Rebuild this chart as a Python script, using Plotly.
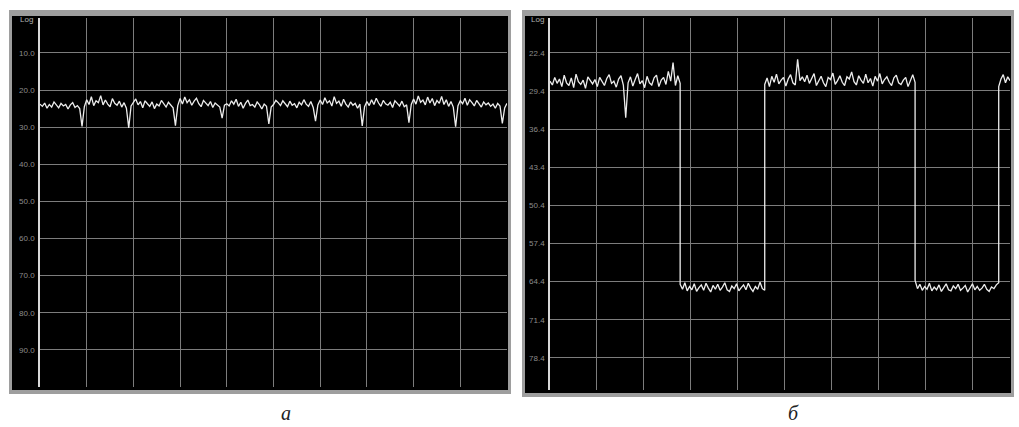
import numpy as np
import plotly.graph_objects as go

W, H = 1019, 427

# ---------------- data ----------------
left_ticks = [10, 20, 30, 40, 50, 60, 70, 80, 90]
left_ticklabels = ["10.0", "20.0", "30.0", "40.0", "50.0", "60.0", "70.0", "80.0", "90.0"]
right_ticks = [22.4, 29.4, 36.4, 43.4, 50.4, 57.4, 64.4, 71.4, 78.4]
right_ticklabels = ["22.4", "29.4", "36.4", "43.4", "50.4", "57.4", "64.4", "71.4", "78.4"]

# panel a: trace sampled every 0.05 division (201 samples over 10 divisions)
left_values = [
    23.8, 24.4, 23.5, 24.9, 23.9, 24.6, 23.2, 24.1, 24.8, 23.6, 24.3, 23.9, 25.1, 24.0, 23.4, 24.7, 24.2, 25.0, 29.8, 24.5,
    22.6, 23.9, 21.8, 24.2, 22.9, 23.4, 21.5, 24.0, 22.7, 23.8, 24.5, 22.3, 23.6, 24.1, 23.0, 24.6, 23.4, 24.9, 30.2, 24.3,
    23.5, 22.4, 24.0, 23.1, 24.8, 22.9, 23.7, 24.4, 23.2, 25.0, 23.8, 24.3, 22.8, 23.9, 24.6, 23.3, 24.1, 24.8, 29.6, 24.2,
    22.3, 23.8, 21.9, 23.4, 22.6, 24.1, 23.0, 22.2, 23.7, 24.5, 22.8, 23.6, 24.2, 23.1, 24.7, 23.5, 24.0, 24.6, 27.6, 24.1,
    23.7, 24.3, 22.9, 23.8, 22.5, 24.4, 23.3, 24.9, 23.6, 22.7, 24.2, 23.9, 24.6, 23.2, 24.0, 25.1, 23.8, 24.4, 29.1, 24.6,
    23.9, 22.8, 23.4, 24.2, 22.9, 23.6, 24.5, 23.0, 24.1, 23.7, 24.8, 23.3, 24.0, 22.6, 23.8, 24.4, 23.1, 24.7, 28.4, 24.0,
    22.7, 23.9, 22.1, 23.5, 22.9, 24.3, 21.8, 23.6, 23.0, 24.4, 22.5, 23.8, 24.6, 23.2, 24.1, 23.6, 24.9, 23.8, 29.7, 24.5,
    23.1, 24.2, 22.6, 23.9, 22.2, 23.5, 24.4, 22.8, 23.7, 24.1, 23.3, 24.7, 22.9, 23.6, 24.3, 23.0, 24.5, 24.0, 28.8, 23.9,
    22.4, 23.8, 21.6, 23.3, 22.7, 24.0, 21.9, 23.5, 22.3, 24.2, 22.8, 23.6, 21.7, 23.9, 22.6, 24.4, 23.1, 24.6, 29.9, 24.2,
    22.9, 23.7, 22.2, 24.1, 22.6, 23.4, 24.3, 22.8, 23.9, 24.6, 23.2, 24.0, 23.5, 24.4, 23.8, 24.9, 23.6, 24.3, 29.0, 24.8,
    23.6,
]

# panel б: segments (start, end in divisions) and their sampled values
seg_bounds = [0.0, 2.77, 4.57, 7.77, 9.55, 9.79]
high1 = [27.6, 28.3, 26.9, 28.0, 27.2, 28.6, 26.5, 27.9, 28.4, 27.0, 28.8, 26.3, 27.7, 28.2, 27.4, 28.9, 26.8, 27.5,
         28.1, 27.3, 28.6, 26.9, 27.8, 28.4, 27.1, 26.4, 28.0, 27.6, 28.7, 27.2, 26.6, 28.3, 34.3, 27.9, 26.8, 28.5,
         27.3, 26.2, 28.1, 27.5, 28.8, 26.7, 27.9, 28.3, 27.0, 26.5, 28.6, 27.4, 26.9, 28.2, 25.8, 27.6, 24.2, 28.4,
         26.6, 28.0]
low1 = [64.9, 65.8, 64.6, 66.1, 65.3, 65.9, 64.8, 66.2, 65.5, 65.0, 66.0, 64.7, 65.6, 66.3, 65.1, 65.8, 64.9, 66.0,
        65.4, 64.6, 65.9, 66.2, 65.2, 65.7, 64.8, 66.1, 65.5, 65.0, 65.9, 64.7, 65.6, 66.2, 65.3, 65.8, 64.5, 65.7, 66.0]
high2 = [28.2, 27.0, 28.6, 26.7, 27.8, 26.3, 28.1, 27.4, 26.9, 28.5, 27.2, 26.4, 27.9, 28.3, 23.6, 27.5, 26.8, 27.7,
         26.5, 28.0, 27.1, 26.2, 28.4, 27.6, 26.7, 27.9, 28.6, 26.9, 27.3, 26.1, 28.2, 27.5, 26.6, 27.8, 28.4, 26.8,
         27.2, 25.9, 27.7, 28.3, 26.6, 27.4, 28.0, 26.3, 27.9, 27.1, 28.5, 26.7, 27.6, 26.2, 28.1, 27.3, 26.8, 27.8,
         28.4, 27.0, 26.5, 27.9, 28.2, 27.4, 26.9, 28.6, 27.5, 26.4, 27.8]
low2 = [64.2, 65.7, 64.9, 66.0, 65.3, 65.8, 64.7, 66.1, 65.4, 65.9, 65.0, 66.2, 65.5, 64.8, 65.9, 66.1, 65.2, 65.7,
        64.9, 66.0, 65.6, 65.1, 66.3, 65.4, 64.8, 65.9, 65.3, 66.0, 65.6, 64.9, 65.8, 66.2, 65.4, 65.7, 65.0, 64.6]
high3 = [28.6, 27.2, 26.4, 27.9, 26.8, 27.5]
right_segments = [high1, low1, high2, low2, high3]

# ---------------- build ----------------
left_x = np.linspace(0, 10, len(left_values))
rx, ry = [], []
for i, seg in enumerate(right_segments):
    xs = np.linspace(seg_bounds[i], seg_bounds[i + 1], len(seg))
    rx.extend(xs.tolist())
    ry.extend(seg)


def px(v):
    return v / W


def py(v):
    return 1 - v / H


fig = go.Figure()
line_style = dict(color="#ededed", width=1.3)
fig.add_trace(go.Scatter(x=left_x, y=left_values, mode="lines", line=line_style,
                         xaxis="x", yaxis="y", hoverinfo="skip"))
fig.add_trace(go.Scatter(x=rx, y=ry, mode="lines", line=line_style,
                         xaxis="x2", yaxis="y2", hoverinfo="skip"))

grid = "#7c7c7c"
tickfont = dict(family="Liberation Sans", size=8, color="#8c8c8c")
common_x = dict(showgrid=True, gridcolor=grid, gridwidth=1, dtick=1, tick0=0,
                showticklabels=False, zeroline=False, showline=False, ticks="", fixedrange=True)
common_y = dict(showgrid=True, gridcolor=grid, gridwidth=1, zeroline=False,
                showline=True, linecolor="#d8d8d8", linewidth=1.5, ticks="",
                tickfont=tickfont, ticklabelstandoff=2, fixedrange=True)

shapes = []
# panel frames (grey border, black inner)
for (x0, y0, x1, y1), (ix0, iy0, ix1, iy1) in [
    ((9, 10, 511, 394), (12, 16, 508, 390)),
    ((522, 10, 1014, 397), (525, 16, 1011, 393)),
]:
    shapes.append(dict(type="rect", xref="paper", yref="paper", layer="below",
                       x0=px(x0), x1=px(x1), y0=py(y1), y1=py(y0),
                       fillcolor="#9e9e9e", line=dict(width=0)))
    shapes.append(dict(type="rect", xref="paper", yref="paper", layer="below",
                       x0=px(ix0), x1=px(ix1), y0=py(iy1), y1=py(iy0),
                       fillcolor="#000000", line=dict(width=0)))

fig.update_layout(
    width=W, height=H,
    margin=dict(l=0, r=0, t=0, b=0),
    paper_bgcolor="white", plot_bgcolor="black",
    showlegend=False,
    shapes=shapes,
    xaxis=dict(domain=[px(40), px(507)], range=[0, 10], anchor="y", **common_x),
    yaxis=dict(domain=[py(387), py(18)], range=[100, 0.6], anchor="x",
               tickvals=left_ticks, ticktext=left_ticklabels, **common_y),
    xaxis2=dict(domain=[px(550), px(1010)], range=[0, 9.79], anchor="y2", **common_x),
    yaxis2=dict(domain=[py(390), py(18)], range=[84.3, 16.0], anchor="x2",
                tickvals=right_ticks, ticktext=right_ticklabels, **common_y),
    annotations=[
        dict(text="Log", xref="paper", yref="paper", x=px(26), y=py(19), showarrow=False,
             xanchor="center", yanchor="middle",
             font=dict(family="Liberation Sans", size=8, color="#b0b0b0")),
        dict(text="Log", xref="paper", yref="paper", x=px(537), y=py(19), showarrow=False,
             xanchor="center", yanchor="middle",
             font=dict(family="Liberation Sans", size=8, color="#b0b0b0")),
        dict(text="<i>a</i>", xref="paper", yref="paper", x=px(286), y=py(413), showarrow=False,
             xanchor="center", yanchor="middle",
             font=dict(family="Liberation Serif", size=20, color="#222222")),
        dict(text="<i>б</i>", xref="paper", yref="paper", x=px(793), y=py(413), showarrow=False,
             xanchor="center", yanchor="middle",
             font=dict(family="Liberation Serif", size=20, color="#222222")),
    ],
)

fig.write_html("out.html", config={"displayModeBar": False},
               post_script="document.body.style.margin='0px';document.body.style.overflow='hidden';")
